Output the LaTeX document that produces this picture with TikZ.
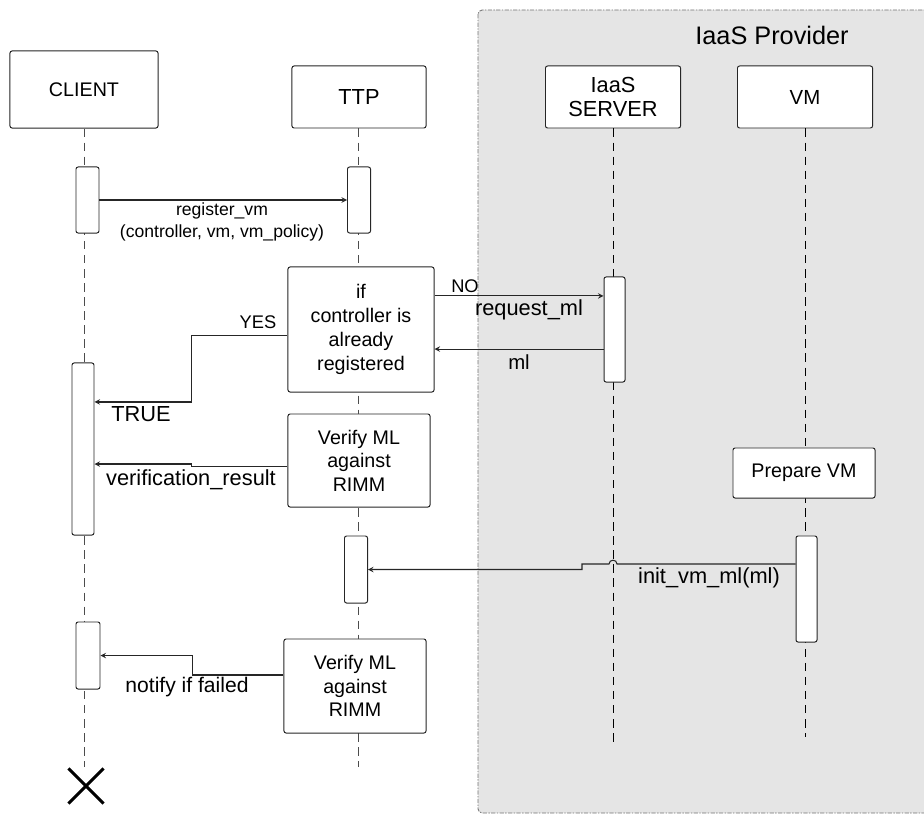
\documentclass[tikz,border=0pt]{standalone}
\usepackage{fontspec}
\setmainfont{Liberation Sans}
\usetikzlibrary{shapes.misc, arrows}
\tikzset{
  lifeline/.style={dash pattern=on 6pt off 4pt, draw=black!70, line width=0.7pt},
  actor/.style={draw=black!85, fill=white, rounded corners=1.5pt, align=center, inner sep=0pt, line width=0.7pt},
  act/.style={draw=black!85, fill=white, rounded corners=1.5pt, minimum width=0.575cm, inner sep=0pt, line width=0.7pt},
  stepbox/.style={draw=black!85, fill=white, rounded corners=1.5pt, align=center, inner sep=0pt, line width=0.7pt, font=\fontsize{14}{17}\selectfont},
  msg/.style={draw=black!85, line width=0.75pt, ->},
  msgtext/.style={font=\fontsize{15.5}{18}\selectfont, inner sep=0pt}
}
\tikzset{
  provider/.style={fill=black!10, draw=black!55, dash pattern=on 3pt off 1pt on 1pt off 1pt, rounded corners=3pt, line width=0.6pt}
}
\begin{document}
\begin{tikzpicture}[>=stealth, x=0.025cm, y=-0.025cm]
  \useasboundingbox (0,0) rectangle (924,814);
  % provider region
  \draw[provider] (478,10) rectangle (940,813);
  \node[font=\fontsize{18}{20}\selectfont] (provtitle) at (772,35) {IaaS Provider};

  % actors
  \node[actor, minimum width=3.7cm, minimum height=1.925cm, font=\fontsize{14}{17}\selectfont] (client) at (84,89.5) {CLIENT};
  \node[actor, minimum width=3.35cm, minimum height=1.55cm, font=\fontsize{15.5}{18}\selectfont] (ttp) at (359,97) {TTP};
  \node[actor, minimum width=3.375cm, minimum height=1.55cm, font=\fontsize{15.5}{17.7}\selectfont] (iaas) at (613,97) {IaaS\\SERVER};
  \node[actor, minimum width=3.375cm, minimum height=1.55cm, font=\fontsize{14.5}{17}\selectfont] (vm) at (805,97) {VM};

  % lifelines
  \coordinate (clientend) at (84,767);
  \coordinate (ttpend) at (358,767);
  \coordinate (iaasend) at (613,742);
  \coordinate (vmend) at (805.5,737);
  \draw[lifeline] (client.south) -- (clientend);
  \draw[lifeline] (ttp.south -| ttpend) -- (ttpend);
  \draw[lifeline, draw=black] (iaas.south) -- (iaasend);
  \draw[lifeline, draw=black] (vm.south -| vmend) -- (vmend);
  \node[cross out, draw=black, line width=2.2pt, minimum size=0.8cm, inner sep=0pt] (destroy) at (86,786) {};

  % activations
  \node[act, minimum height=1.65cm] (clientact1) at (87.5,200) {};
  \node[act, minimum height=1.65cm] (ttpact1) at (359,200) {};
  \node[act, minimum width=0.525cm, minimum height=2.625cm] (iaasact) at (614.5,329.5) {};
  \node[act, minimum width=0.55cm, minimum height=4.3cm] (clientact2) at (83,449) {};
  \node[act, minimum height=1.675cm] (ttpact2) at (356,569.5) {};
  \node[act, minimum width=0.525cm, minimum height=2.65cm] (vmact) at (806.5,589) {};
  \node[act, minimum width=0.6cm, minimum height=1.675cm] (clientact3) at (88,655.5) {};

  % steps
  \node[stepbox, minimum width=3.65cm, minimum height=3.125cm] (decide) at (361,329.5) {if\\controller is\\already\\registered};
  \node[stepbox, minimum width=3.55cm, minimum height=2.325cm, font=\fontsize{14}{16.7}\selectfont] (verify1) at (359,460.5) {Verify ML\\against\\RIMM};
  \node[stepbox, minimum width=3.55cm, minimum height=1.25cm] (prepare) at (804,473) {Prepare VM};
  \node[stepbox, minimum width=3.55cm, minimum height=2.35cm, font=\fontsize{14}{16.7}\selectfont] (verify2) at (355,686) {Verify ML\\against\\RIMM};

  % messages
  \draw[msg] (clientact1.east) -- (ttpact1.west);
  \node[align=center, font=\fontsize{12.5}{15}\selectfont, inner sep=0pt] (reglbl) at (222,222) {register\_vm\\(controller, vm, vm\_policy)};

  \draw[msg] ([yshift=0.84cm]decide.east) -- ([yshift=0.84cm]decide.east -| iaasact.west);
  \node[font=\fontsize{13}{15}\selectfont, inner sep=0pt] (nolbl) at (465,286) {NO};
  \node[msgtext] (reqlbl) at (529,310) {request\_ml};

  \draw[msg] ([yshift=-0.49cm]iaasact.west) -- ([yshift=-0.49cm]iaasact.west -| decide.east);
  \node[msgtext, font=\fontsize{14.5}{17}\selectfont] (mllbl) at (519,362) {ml};

  \draw[msg] ([yshift=-0.14cm]decide.west) -- ++(-96,0) |- ([yshift=1.175cm]clientact2.east);
  \node[font=\fontsize{13}{15}\selectfont, inner sep=0pt] (yeslbl) at (258,322) {YES};
  \node[msgtext] (truelbl) at (141,414) {TRUE};

  \draw[msg] ([yshift=-0.16cm]verify1.west) -- ++(-96,0) |- ([yshift=-0.375cm]clientact2.east);
  \node[msgtext] (reslbl) at (191,480) {verification\_result};

  \draw[msg] ([yshift=0.625cm]vmact.west) -- (617,564) .. controls (617,559) and (609,559) .. (609,564)
    -- (582,564) |- (ttpact2.east);
  \node[msgtext] (initlbl) at (709,578) {init\_vm\_ml(ml)};

  \draw[msg] ([yshift=0.275cm]verify2.west) -- ++(-91,0) |- (clientact3.east);
  \node[msgtext, font=\fontsize{15}{17}\selectfont] (notelbl) at (187,687) {notify if failed};
\end{tikzpicture}
\end{document}
